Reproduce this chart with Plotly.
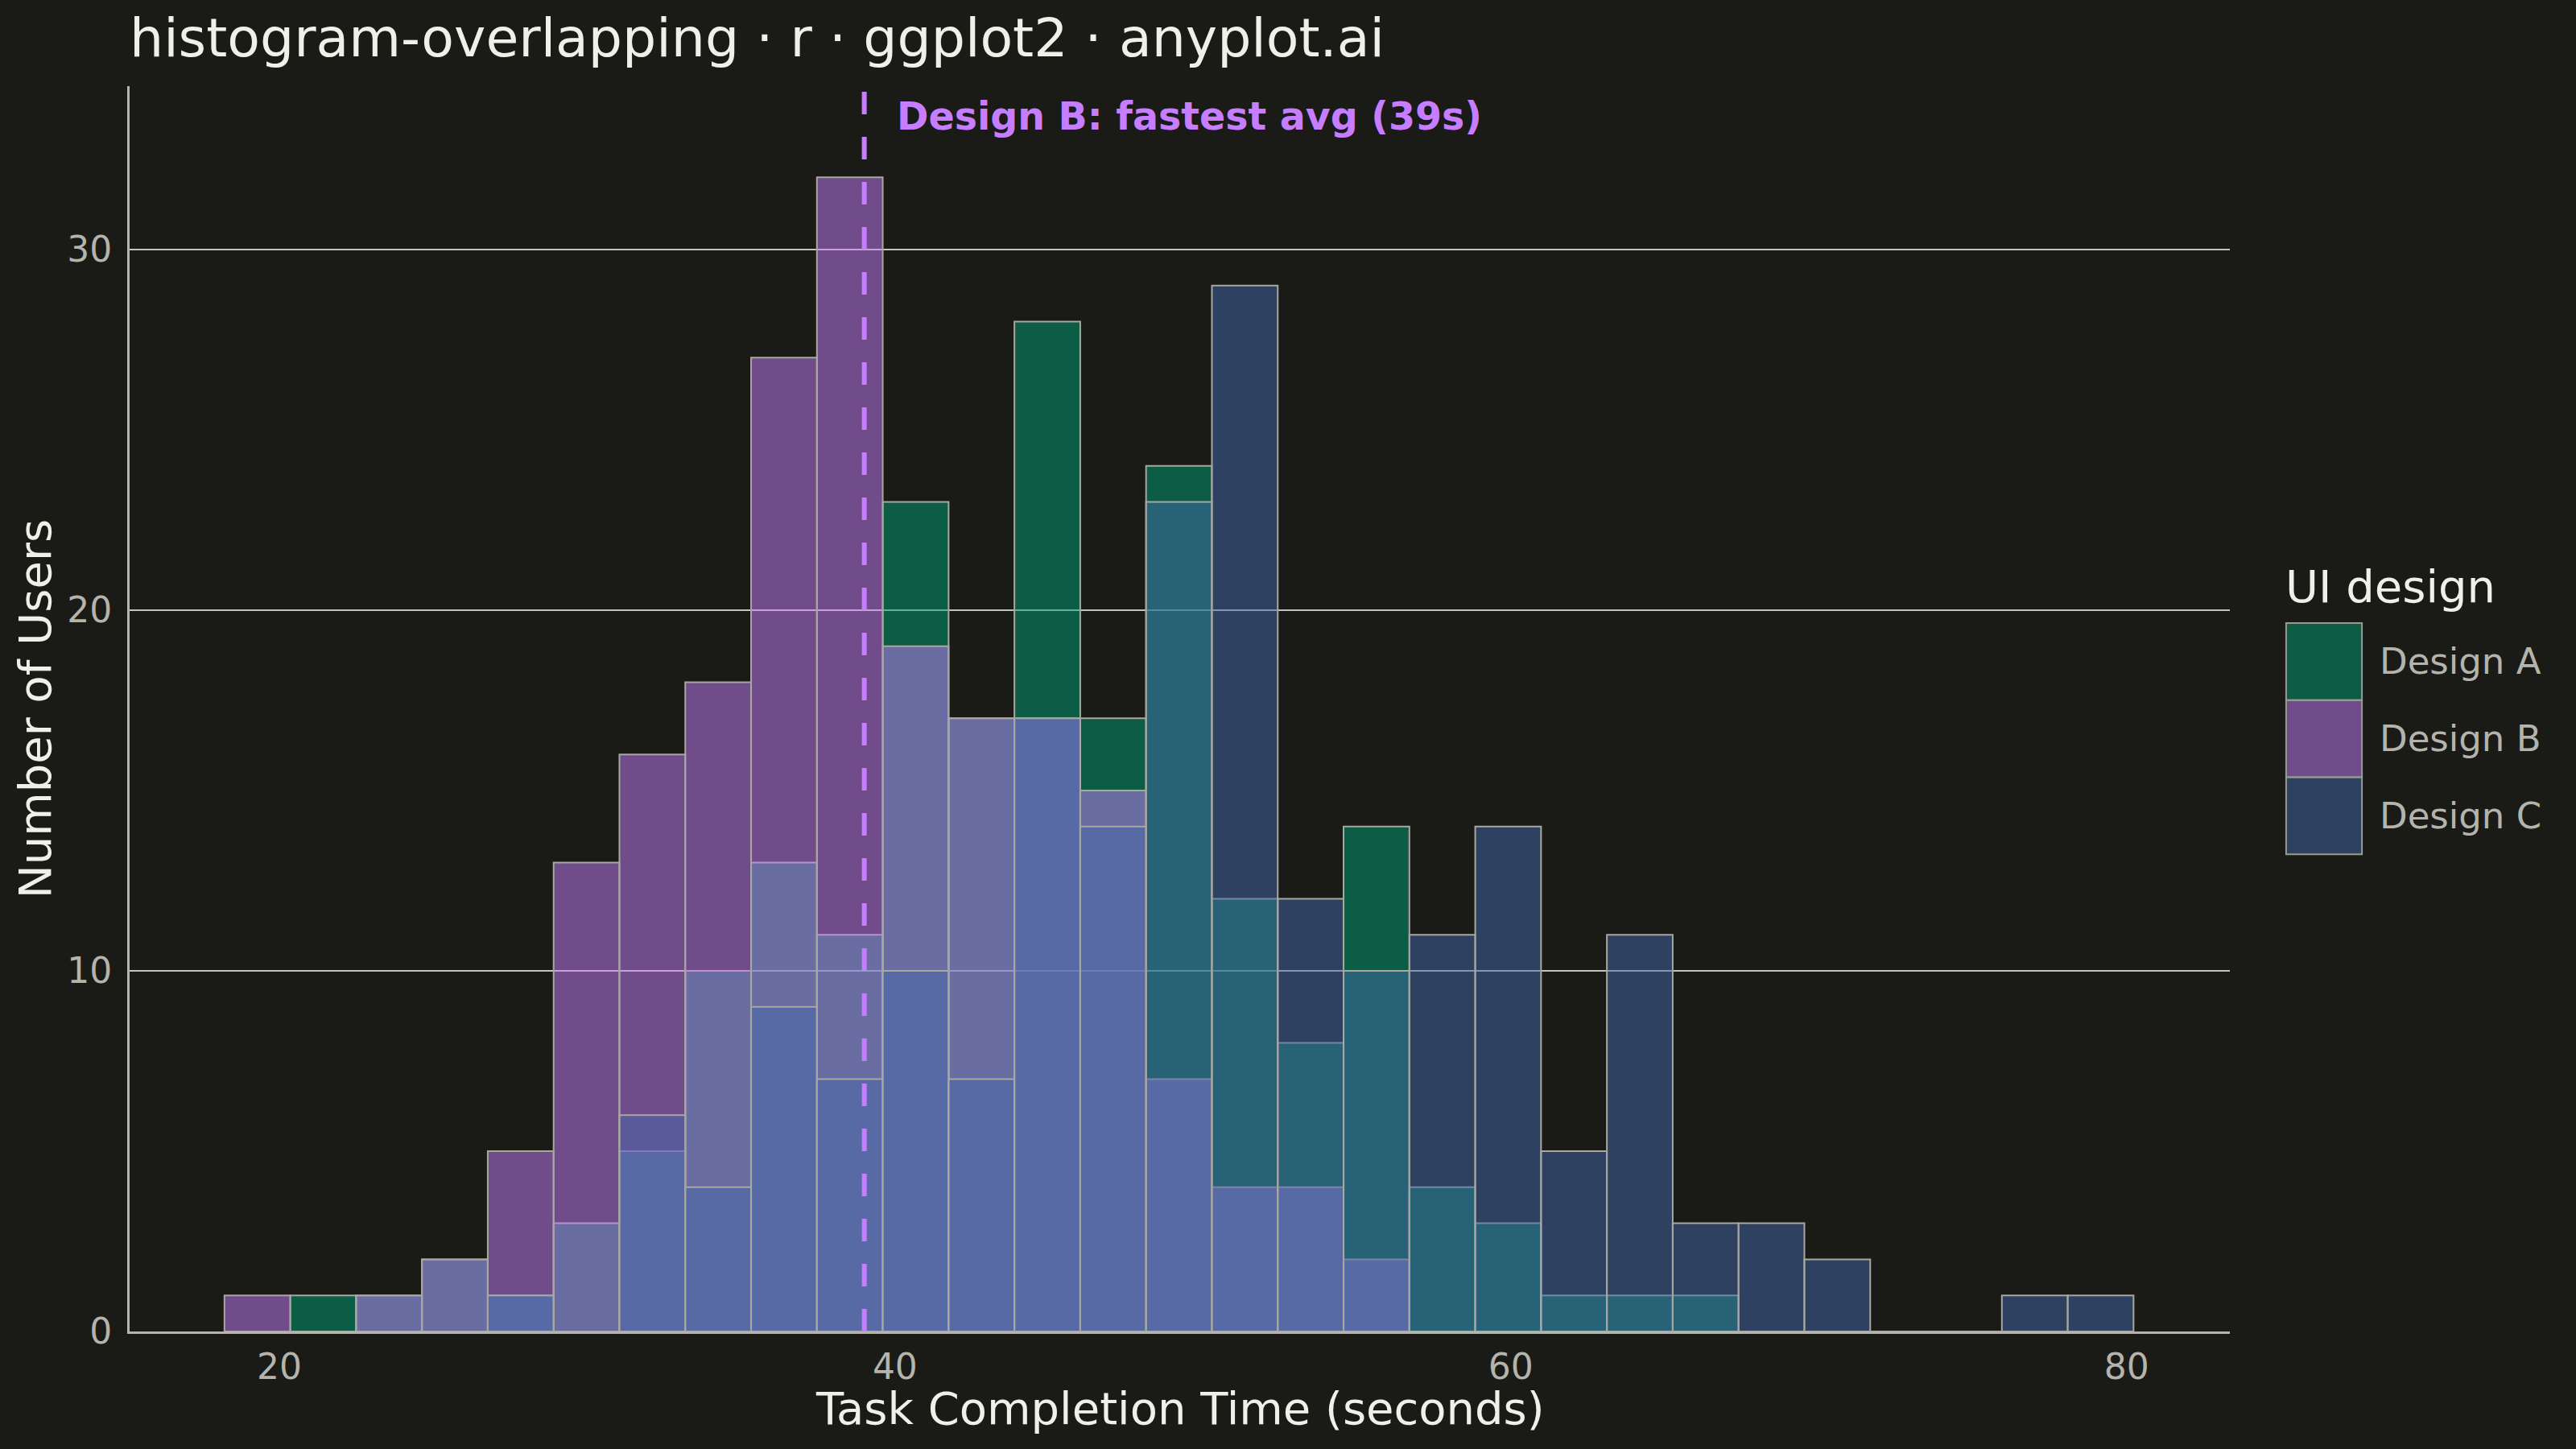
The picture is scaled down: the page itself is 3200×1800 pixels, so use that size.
"""
Histogramme superposé : temps de réalisation d'une tâche selon le design UI
"""
import plotly.graph_objects as go

# --------------------------------------------------------------------
#  Données (comptes par classe)
# --------------------------------------------------------------------
bin_start = 18.22      # borne gauche de la première classe (s)
bin_width = 2.138      # largeur de classe (s)

design_names = ["Design A", "Design B", "Design C"]

counts_a = [0, 1, 1, 2, 1, 3, 5, 10, 13, 11, 23, 17, 28, 17, 24, 12, 8, 14,
            4, 3, 1, 1, 1, 0, 0, 0, 0, 0, 0]
counts_b = [1, 0, 1, 2, 5, 13, 16, 18, 27, 32, 19, 17, 17, 15, 7, 4, 4, 2,
            0, 0, 0, 0, 0, 0, 0, 0, 0, 0, 0]
counts_c = [0, 0, 0, 0, 1, 0, 6, 4, 9, 7, 10, 7, 17, 14, 23, 29, 12, 10,
            11, 14, 5, 11, 3, 3, 2, 0, 0, 1, 1]

mean_b = 39            # moyenne du design B (s)

x_ticks = [20, 40, 60, 80]
y_ticks = [0, 10, 20, 30]

# --------------------------------------------------------------------
#  Style
# --------------------------------------------------------------------
BG = "#1A1A17"
TEXT = "#F0EFE8"
TEXT_SOFT = "#B4B4AC"
GRID = "#C4C4BC"
OUTLINE = "#A8A8A0"
FONT = "DejaVu Sans"
fill_colors = ["rgba(0,158,115,0.5)", "rgba(199,125,255,0.5)", "rgba(68,103,169,0.5)"]
ACCENT = "#C77DFF"

n_bins = len(counts_a)
centers = [bin_start + bin_width * (i + 0.5) for i in range(n_bins)]

fig = go.Figure()

for name, counts, fill in zip(design_names, [counts_a, counts_b, counts_c], fill_colors):
    fig.add_trace(go.Bar(
        x=centers,
        y=counts,
        width=bin_width,
        name=name,
        marker=dict(color=fill, line=dict(color=OUTLINE, width=2)),
        showlegend=False,
    ))

# ligne de moyenne du design B
fig.add_vline(x=mean_b, line=dict(color=ACCENT, width=6, dash="28px,28px"), layer="above")
fig.add_annotation(
    x=mean_b, y=33.7, xref="x", yref="y",
    text="<b>Design B: fastest avg (39s)</b>",
    showarrow=False, xanchor="left", yanchor="middle", xshift=38,
    font=dict(family=FONT, size=47.5, color=ACCENT),
)

# titre de l'axe x (placé à la main pour coller au rendu ggplot)
fig.add_annotation(
    x=0.5, y=-0.0615, xref="paper", yref="paper",
    text="Task Completion Time (seconds)",
    showarrow=False, xanchor="center", yanchor="middle",
    font=dict(family=FONT, size=56, color=TEXT),
)

# --------------------------------------------------------------------
#  Légende dessinée à la main (grandes clés comme ggplot)
# --------------------------------------------------------------------
key_x0, key_x1 = 1.0268, 1.0629
key_tops = [0.5688, 0.5069, 0.4450]
key_h = 0.0619
for name, fill, top in zip(design_names, fill_colors, key_tops):
    fig.add_shape(type="rect", xref="paper", yref="paper",
                  x0=key_x0, x1=key_x1, y0=top - key_h, y1=top,
                  fillcolor=fill, line=dict(color="#9A9A94", width=2))
    fig.add_annotation(x=1.0705, y=top - key_h / 2, xref="paper", yref="paper",
                       text=name, showarrow=False, xanchor="left", yanchor="middle",
                       font=dict(family=FONT, size=45, color=TEXT_SOFT))
fig.add_annotation(x=1.0255, y=0.598, xref="paper", yref="paper",
                   text="UI design", showarrow=False, xanchor="left", yanchor="middle",
                   font=dict(family=FONT, size=56, color=TEXT))

fig.update_layout(
    width=3200, height=1800,
    barmode="overlay",
    paper_bgcolor=BG, plot_bgcolor=BG,
    font=dict(family=FONT, color=TEXT),
    margin=dict(l=161, r=430, t=107, b=146, autoexpand=False),
    title=dict(
        text="histogram-overlapping · r · ggplot2 · anyplot.ai",
        x=0, xref="paper", xanchor="left",
        y=1 - 47 / 1800, yref="container", yanchor="middle",
        font=dict(family=FONT, size=66.5, color=TEXT),
    ),
    xaxis=dict(
        range=[15.14, 83.35], tickvals=x_ticks,
        showgrid=False, zeroline=False,
        showline=True, linecolor=TEXT_SOFT, linewidth=3,
        ticks="", ticklabelstandoff=3,
        tickfont=dict(family=FONT, size=44, color=TEXT_SOFT),
    ),
    yaxis=dict(
        range=[0, 34.53], tickvals=y_ticks,
        showgrid=True, gridcolor=GRID, gridwidth=2, zeroline=False,
        showline=True, linecolor=TEXT_SOFT, linewidth=3,
        ticks="", ticklabelstandoff=10,
        tickfont=dict(family=FONT, size=44, color=TEXT_SOFT),
        title=dict(text="Number of Users", standoff=2,
                   font=dict(family=FONT, size=56, color=TEXT)),
    ),
)

fig.write_html(
    "out.html",
    config={"displayModeBar": False},
    post_script="document.body.style.margin='0';document.body.style.overflow='hidden';",
)
